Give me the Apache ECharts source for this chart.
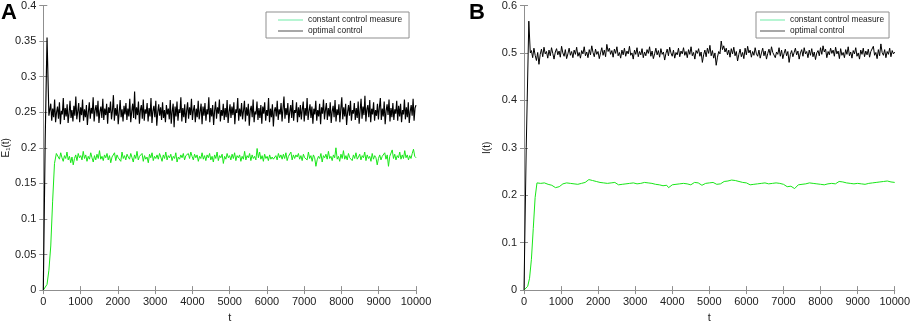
<!DOCTYPE html>
<html>
<head>
<meta charset="utf-8">
<script src="https://cdn.jsdelivr.net/npm/echarts@6/dist/echarts.min.js"></script>
<style>
 html, body { margin: 0; padding: 0; background: #fff; }
 #chart { width: 913px; height: 328px; }
</style>
</head>
<body>
<div id="chart"></div>
<script>
 // 数据：初始上升段（带时间）+ 平稳段（等间隔采样到 t=10000）
 let tMax = 10000
 let nameGreen = 'constant control measure'
 let nameBlack = 'optimal control'

 // 图 A: E1(t)
 let aGreenRiseT = [0,50,100,150,200,250,300,350]
 let aGreenRise = [0,0.002,0.008,0.028,0.062,0.125,0.178,0.192]
 let aGreenStart = 400
 let aGreen = [
  .19,.184,.193,.186,.181,.189,.185,.194,.183,.188,.179,.187,.176,.185,.19,.182,.192,.186,.189,.183,
  .195,.185,.19,.181,.188,.184,.193,.186,.18,.189,.183,.191,.185,.196,.184,.188,.182,.19,.186,.192,
  .183,.189,.179,.187,.185,.193,.182,.19,.186,.188,.181,.194,.185,.189,.183,.191,.187,.184,.192,.186,
  .18,.19,.185,.195,.183,.188,.186,.192,.181,.189,.184,.187,.179,.191,.186,.193,.182,.188,.185,.19,
  .184,.192,.187,.181,.19,.185,.194,.183,.189,.186,.191,.182,.188,.185,.193,.18,.187,.184,.19,.186,
  .192,.183,.189,.187,.192,.185,.194,.188,.183,.191,.186,.19,.181,.188,.185,.193,.184,.189,.182,.19,
  .186,.192,.183,.188,.18,.19,.185,.194,.182,.189,.186,.191,.178,.188,.184,.192,.186,.189,.183,.191,
  .185,.193,.182,.189,.186,.19,.181,.188,.184,.195,.183,.189,.186,.192,.182,.19,.185,.188,.183,.199,
  .186,.194,.184,.189,.181,.191,.185,.188,.182,.19,.184,.187,.184,.185,.189,.183,.192,.186,.19,.184,
  .191,.185,.193,.182,.188,.186,.194,.183,.19,.185,.19,.187,.192,.184,.189,.182,.191,.186,.188,.183,
  .194,.185,.189,.181,.19,.186,.174,.183,.188,.185,.192,.18,.189,.186,.191,.184,.195,.185,.188,.182,
  .19,.186,.2,.184,.188,.181,.191,.185,.196,.184,.189,.183,.192,.186,.188,.182,.19,.185,.193,.184,
  .187,.191,.183,.189,.186,.194,.182,.19,.185,.188,.181,.192,.184,.189,.186,.176,.185,.19,.183,.188,
  .186,.193,.184,.19,.174,.188,.186,.197,.185,.191,.183,.189,.186,.194,.184,.19,.185,.196,.186,.19,
  .183,.189,.185,.192,.198,.188,.186
 ]
 let aBlackRiseT = [0,50,100,150]
 let aBlackRise = [0,0.21,0.355,0.245]
 let aBlackStart = 200
 let aBlack = [
  .262,.238,.255,.243,.268,.236,.25,.258,.241,.264,.233,.252,.247,.27,.239,.256,.244,.261,.235,.249,
  .266,.242,.253,.237,.259,.245,.272,.24,.251,.263,.236,.257,.246,.268,.238,.254,.243,.26,.232,.25,
  .264,.241,.256,.248,.271,.237,.253,.26,.244,.266,.235,.251,.258,.242,.269,.239,.255,.246,.262,.234,
  .257,.249,.265,.24,.252,.274,.238,.256,.245,.261,.233,.25,.267,.243,.254,.237,.259,.247,.263,.239,
  .255,.244,.269,.236,.251,.262,.242,.279,.24,.257,.246,.265,.234,.253,.26,.241,.268,.238,.254,.248,
  .263,.237,.256,.244,.27,.235,.252,.259,.243,.266,.231,.25,.261,.245,.257,.239,.264,.242,.253,.236,
  .26,.247,.255,.24,.267,.234,.251,.262,.229,.258,.244,.265,.238,.254,.249,.271,.237,.256,.243,.261,
  .235,.252,.264,.241,.257,.246,.269,.239,.253,.26,.236,.255,.243,.266,.24,.251,.262,.233,.258,.245,
  .263,.238,.254,.247,.271,.236,.256,.244,.26,.232,.252,.265,.241,.257,.248,.268,.237,.253,.245,.262,
  .239,.256,.243,.267,.235,.25,.261,.242,.258,.246,.264,.233,.254,.249,.27,.238,.255,.244,.263,.24,
  .252,.266,.237,.257,.245,.262,.231,.253,.259,.243,.268,.236,.251,.247,.265,.239,.256,.242,.26,.234,
  .258,.248,.264,.238,.253,.245,.27,.236,.255,.243,.261,.23,.252,.257,.244,.266,.239,.254,.247,.263,
  .237,.255,.272,.241,.256,.246,.263,.235,.251,.26,.242,.267,.238,.253,.249,.264,.236,.257,.243,.26,
  .24,.254,.265,.237,.256,.245,.27,.239,.252,.261,.242,.258,.234,.255,.247,.266,.238,.253,.244,.262,
  .233,.257,.248,.268,.24,.253,.263,.239,.256,.244,.264,.235,.251,.259,.243,.267,.237,.254,.246,.261,
  .236,.255,.271,.24,.257,.244,.262,.232,.25,.26,.245,.266,.238,.253,.248,.263,.239,.256,.242,.265,
  .234,.252,.269,.241,.258,.246,.273,.237,.254,.26,.243,.267,.236,.255,.247,.264,.238,.253,.245,.262,
  .24,.257,.27,.239,.255,.244,.265,.233,.252,.261,.246,.268,.237,.256,.243,.263,.239,.254,.248,.266,
  .238,.259,.244,.262,.236,.253,.247,.268,.24,.257,.243,.264,.235,.251,.26,.245,.269,.238,.256,.26
 ]

 // 图 B: I(t)
 let bGreenRiseT = [0,50,100,150,200,250,300,350]
 let bGreenRise = [0,0.002,0.008,0.025,0.065,0.13,0.195,0.226]
 let bGreenStart = 400
 let bGreen = [
  .228,.225,.229,.226,.227,.223,.225,.221,.219,.216,.214,.218,.221,.224,.222,.226,.223,.225,.227,.224,
  .226,.223,.227,.225,.229,.227,.231,.233,.229,.231,.227,.229,.225,.227,.224,.226,.222,.225,.223,.226,
  .224,.227,.225,.222,.225,.223,.226,.224,.228,.225,.223,.226,.222,.224,.221,.225,.223,.227,.224,.226,
  .228,.225,.227,.223,.225,.222,.224,.22,.218,.221,.216,.219,.222,.225,.223,.226,.224,.227,.225,.228,
  .224,.226,.222,.225,.227,.223,.226,.224,.221,.223,.225,.222,.226,.224,.227,.225,.223,.226,.224,.227,
  .229,.226,.23,.228,.232,.229,.231,.227,.229,.225,.227,.223,.226,.224,.222,.225,.223,.226,.224,.227,
  .225,.223,.226,.222,.224,.227,.225,.228,.226,.223,.225,.221,.223,.22,.218,.221,.219,.216,.214,.218,
  .222,.225,.223,.227,.224,.228,.226,.229,.225,.227,.224,.226,.223,.225,.222,.226,.224,.227,.225,.228,
  .224,.226,.229,.226,.228,.224,.226,.223,.225,.221,.224,.222,.225,.227,.224,.226,.223,.227,.225,.228,
  .226,.229,.227,.23,.228,.231,.229,.232,.23,.231,.228,.23,.227
 ]
 let bBlackRiseT = [0,60,130,170]
 let bBlackRise = [0,0.3,0.567,0.5]
 let bBlackStart = 200
 let bBlack = [
  .505,.49,.51,.495,.484,.501,.476,.497,.508,.492,.512,.498,.503,.489,.506,.494,.511,.499,.487,.502,
  .509,.496,.504,.491,.514,.5,.493,.507,.488,.498,.51,.495,.503,.49,.506,.497,.512,.493,.501,.489,
  .505,.498,.513,.494,.502,.49,.507,.496,.515,.501,.492,.508,.497,.503,.488,.5,.511,.495,.506,.492,
  .518,.503,.51,.497,.505,.491,.508,.499,.513,.494,.501,.489,.506,.496,.51,.493,.504,.498,.514,.495,
  .5,.487,.506,.497,.511,.492,.503,.496,.509,.49,.502,.494,.507,.499,.513,.493,.504,.488,.498,.51,
  .496,.505,.491,.509,.497,.502,.485,.499,.508,.494,.512,.5,.493,.506,.489,.501,.496,.51,.492,.504,
  .498,.511,.495,.503,.49,.507,.497,.513,.494,.501,.487,.505,.499,.509,.493,.502,.48,.496,.506,.492,
  .51,.499,.516,.494,.505,.489,.5,.474,.491,.503,.498,.525,.507,.515,.502,.51,.496,.506,.491,.509,
  .498,.512,.494,.503,.483,.497,.508,.492,.501,.488,.51,.496,.514,.5,.506,.491,.503,.495,.511,.498,
  .493,.506,.489,.5,.51,.494,.504,.487,.499,.508,.495,.513,.501,.505,.49,.502,.497,.511,.493,.506,
  .488,.499,.508,.494,.503,.48,.497,.505,.492,.501,.51,.496,.504,.487,.5,.507,.493,.511,.498,.503,
  .49,.506,.495,.509,.492,.502,.486,.5,.505,.494,.511,.497,.515,.502,.508,.49,.503,.496,.51,.499,
  .506,.493,.512,.498,.504,.488,.509,.495,.501,.49,.507,.497,.513,.494,.502,.489,.505,.498,.511,.493,
  .5,.487,.506,.497,.51,.492,.504,.496,.508,.491,.503,.499,.514,.495,.501,.488,.507,.494,.519,.501,
  .495,.507,.49,.503,.497,.51,.492,.505,.498,.502
 ]

 // 拼成 [t, y] 点
 function toPoints(riseT, rise, start, vals) {
   let pts = riseT.map((t, i) => [t, rise[i]])
   let step = (tMax - start) / (vals.length - 1)
   vals.forEach((v, i) => pts.push([start + i * step, v]))
   return pts
 }

 var myChart = echarts.init(document.getElementById('chart'));

 let font = 'Liberation Sans'
 let axisColor = '#8f8f8f'
 let green = '#19e619'

 function xAxes(gi) {
   let base = {
     type: 'value', gridIndex: gi, min: 0, max: tMax, interval: 1000,
     axisLine: { show: true, lineStyle: { color: axisColor } },
     axisTick: { show: true, inside: true, length: 4, lineStyle: { color: axisColor } },
     splitLine: { show: false }
   }
   return [
     Object.assign({}, base, {
       position: 'bottom', name: 't', nameLocation: 'middle', nameGap: 19,
       nameTextStyle: { color: '#222', fontSize: 11, fontFamily: font },
       axisLabel: { color: '#222', fontSize: 11, fontFamily: font, margin: 6, formatter: v => String(v) }
     }),
     Object.assign({}, base, { position: 'top', axisLabel: { show: false } })
   ]
 }
 function yAxes(gi, max, interval, name, gap) {
   let base = {
     type: 'value', gridIndex: gi, min: 0, max: max, interval: interval,
     axisLine: { show: true, lineStyle: { color: axisColor } },
     axisTick: { show: true, inside: true, length: 4, lineStyle: { color: axisColor } },
     splitLine: { show: false }
   }
   return [
     Object.assign({}, base, {
       position: 'left', name: name, nameLocation: 'middle', nameGap: gap,
       nameTextStyle: { color: '#222', fontSize: 10, fontFamily: font },
       axisLabel: { color: '#222', fontSize: 11, fontFamily: font, margin: 7 }
     }),
     Object.assign({}, base, { position: 'right', axisLabel: { show: false } })
   ]
 }
 function legend(left, pad) {
   return {
     left: left, top: 12, orient: 'vertical',
     icon: 'rect', itemWidth: 25, itemHeight: 1.5, itemGap: 3, itemTextGap: 4,
     padding: pad,
     borderColor: '#8f8f8f', borderWidth: 1, backgroundColor: '#fff',
     textStyle: { color: '#222', fontSize: 8.4, fontFamily: font },
     data: [
       { name: nameGreen, itemStyle: { color: '#9ff2c4' } },
       { name: nameBlack, itemStyle: { color: '#8a8a8a' } }
     ]
   }
 }
 function line(name, xi, yi, data, color, w) {
   return {
     name: name, type: 'line', xAxisIndex: xi, yAxisIndex: yi, data: data,
     showSymbol: false, symbol: 'none', animation: false,
     lineStyle: { color: color, width: w }, itemStyle: { color: color }
   }
 }

 option = {
   backgroundColor: '#fff',
   animation: false,
   grid: [
     { left: 43, right: 497, top: 5, bottom: 28 },
     { left: 524, right: 16, top: 5, bottom: 28 }
   ],
   xAxis: xAxes(0).concat(xAxes(1)),
   yAxis: yAxes(0, 0.4, 0.05, 'E₁(t)', 30).concat(yAxes(1, 0.6, 0.1, 'I(t)', 32)),
   legend: [legend(266, [4, 7, 3, 12]), legend(756, [4, 5, 3, 4])],
   graphic: [
     { type: 'text', left: 1, top: 2, style: { text: 'A', font: 'bold 22px "Liberation Sans"', fill: '#000' } },
     { type: 'text', left: 469, top: 2, style: { text: 'B', font: 'bold 22px "Liberation Sans"', fill: '#000' } }
   ],
   series: [
     line(nameGreen, 0, 0, toPoints(aGreenRiseT, aGreenRise, aGreenStart, aGreen), green, 1),
     line(nameBlack, 0, 0, toPoints(aBlackRiseT, aBlackRise, aBlackStart, aBlack), '#000', 1.15),
     line(nameGreen, 2, 2, toPoints(bGreenRiseT, bGreenRise, bGreenStart, bGreen), green, 1),
     line(nameBlack, 2, 2, toPoints(bBlackRiseT, bBlackRise, bBlackStart, bBlack), '#000', 1)
   ]
 };

 // 使用刚指定的配置项和数据显示图表。
 myChart.setOption(option);
</script>
</body>
</html>
